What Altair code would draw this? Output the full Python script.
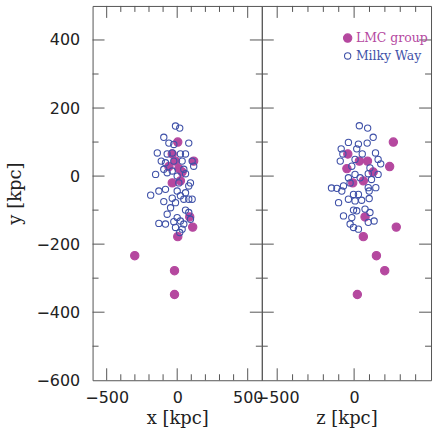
import altair as alt
import pandas as pd

# Satellite positions in kpc
GROUPS = ["LMC group", "Milky Way"]
MAGENTA = "#b5489f"
BLUE = "#3f51a8"
FRAME = "#555555"

LMC_X = [4, -35, -12, 117, -59, 12, 35, -35, 23, 89, 110, 4, -301, -19, -19]
LMC_Y = [100, 65, 44, 44, 28, 22, 12, -20, -14, -120, -150, -178, -234, -278, -348]
LMC_Z = [255, -41, 34, 87, 231, -47, 124, -9, 60, 71, 274, 60, 145, 199, 21]

MW_X = [-12, 18, -95, -59, -24, 82, -141, -71, -35, 23, 59, -113, -83, -24, 35,
        106, 117, -95, -35, 47, -153, -71, 0, 59, 94, 12, 82, -130, -83, -188,
        0, 23, 59, -35, 47, 82, 106, -95, -12, -47, 59, 82, -71, 0, -130,
        -83, -24, 23, 47, -12, 35, 18, 94]
MW_XY = [147, 141, 114, 97, 93, 97, 68, 65, 68, 65, 65, 44, 39, 44, 44,
         44, 29, 20, 15, 20, 5, 10, 0, 7, -20, -20, -29, -44, -39, -56,
         -44, -58, -49, -65, -68, -68, -68, -75, -78, -93, -100, -107, -112, -122, -139,
         -141, -134, -132, -141, -151, -156, -166, -127]

MW_Z = [34, 88, 124, -37, 28, 85, -84, 17, -73, 53, 139, -90, 6, 156, 173,
        -15, 103, 6, 92, 156, -37, 39, 113, -26, 92, -112, -69, -80, -37, 6,
        49, 98, 141, -101, -4, 28, 98, -4, 17, 71, 103, -69, -15, 92, 130,
        -26, -4, 28, -147]
MW_ZY = [148, 141, 114, 99, 94, 97, 80, 80, 65, 65, 68, 44, 49, 49, 36,
         29, 24, 5, 7, 5, -5, -5, -10, -20, -34, -36, -29, -44, -68, -73,
         -71, -66, -34, -78, -54, -54, -44, -100, -102, -97, -107, -117, -122, -136, -132,
         -141, -151, -156, -35]

# Axis tick positions (major carry labels, minor are unlabeled)
X_MAJOR = [-500, 0, 500]
X_MINOR = [-400, -300, -200, -100, 100, 200, 300, 400]
Z_MAJOR = [-500, 0]
Z_MINOR = [-400, -300, -200, -100, 100, 200, 300, 400]
Y_LABELS = [-600, -400, -200, 0, 200, 400]
Y_MAJOR = [-400, -200, 0, 200, 400]
Y_MINOR = [-500, -300, -100, 100, 300]

W, H = 170, 376
MAJOR_LEN, MINOR_LEN = 12, 6

Y_SCALE = alt.Scale(domain=[-600, 500], nice=False, zero=False)


def make_x_axis(values):
    return alt.Axis(values=values, ticks=False, domain=False, grid=False,
                    labelFont="DejaVu Sans", labelFontSize=16, labelColor="#222",
                    labelPadding=9, labelFlush=False, labelOverlap=False,
                    titleFont="DejaVu Serif", titleFontSize=18,
                    titleFontWeight="normal", titleColor="#222", titlePadding=4)


def make_y_axis(show):
    if not show:
        return None
    return alt.Axis(values=Y_LABELS, ticks=False, domain=False, grid=False,
                    labelFont="DejaVu Sans", labelFontSize=16, labelColor="#222",
                    labelPadding=13, labelFlush=False, labelOverlap=False,
                    titleFont="DejaVu Serif", titleFontSize=18,
                    titleFontWeight="normal", titleColor="#222", titlePadding=11)


def tick_rules(vals, along, scale, axis, title, start, end):
    df = pd.DataFrame({"t": vals})
    if along == "x":
        enc = dict(x=alt.X("t:Q", scale=scale, axis=axis, title=title),
                   y=alt.value(start), y2=alt.value(end))
    else:
        enc = dict(y=alt.Y("t:Q", scale=scale, axis=axis, title=title),
                   x=alt.value(start), x2=alt.value(end))
    return alt.Chart(df).mark_rule(color=FRAME, strokeWidth=1).encode(**enc)


def frame_ticks(h_scale, h_axis, h_title, y_axis, h_major, h_minor):
    layers = []
    for vals, length in ((h_major, MAJOR_LEN), (h_minor, MINOR_LEN)):
        layers.append(tick_rules(vals, "x", h_scale, h_axis, h_title, H, H - length))
        layers.append(tick_rules(vals, "x", h_scale, h_axis, h_title, 0, length))
    for vals, length in ((Y_MAJOR, MAJOR_LEN), (Y_MINOR, MINOR_LEN)):
        layers.append(tick_rules(vals, "y", Y_SCALE, y_axis, "y [kpc]", 0, length))
        layers.append(tick_rules(vals, "y", Y_SCALE, y_axis, "y [kpc]", W, W - length))
    return layers


def panel(h_vals, y_vals, lmc_h, title, h_domain, h_major, h_minor, first):
    df = pd.DataFrame({
        "h": list(lmc_h) + list(h_vals),
        "y": list(LMC_Y) + list(y_vals),
        "group": [GROUPS[0]] * len(lmc_h) + [GROUPS[1]] * len(h_vals),
    })
    h_scale = alt.Scale(domain=h_domain, nice=False, zero=False)
    x_axis = make_x_axis(h_major)
    y_axis = make_y_axis(first)
    if first:
        legend = None
    else:
        legend = alt.Legend(
            title=None, orient="none", legendX=80, legendY=26, padding=0,
            labelFont="DejaVu Serif", labelFontSize=12.5, labelOffset=2,
            labelColor=alt.ExprRef(
                expr=f"datum.label == '{GROUPS[0]}' ? '{MAGENTA}' : '{BLUE}'"),
            rowPadding=5, symbolStrokeWidth=1.1,
        )
    points = alt.Chart(df).mark_point(shape="circle", strokeWidth=1.1, opacity=1).encode(
        x=alt.X("h:Q", scale=h_scale, axis=x_axis, title=title),
        y=alt.Y("y:Q", scale=Y_SCALE, axis=y_axis, title="y [kpc]"),
        color=alt.Color("group:N", scale=alt.Scale(domain=GROUPS, range=[MAGENTA, BLUE]),
                        legend=legend),
        fill=alt.Fill("group:N", scale=alt.Scale(domain=GROUPS, range=[MAGENTA, "transparent"]),
                      legend=legend),
        size=alt.Size("group:N", scale=alt.Scale(domain=GROUPS, range=[70, 40]),
                      legend=legend),
    )
    ticks = frame_ticks(h_scale, x_axis, title, y_axis, h_major, h_minor)
    return alt.layer(points, *ticks).properties(width=W, height=H)


left = panel(MW_X, MW_XY, LMC_X, "x [kpc]", [-600, 600], X_MAJOR, X_MINOR, True)
right = panel(MW_Z, MW_ZY, LMC_Z, "z [kpc]", [-600, 500], Z_MAJOR, Z_MINOR, False)

chart = (
    alt.hconcat(left, right, spacing=0, bounds="flush")
    .resolve_scale(color="independent", fill="independent", size="independent")
    .resolve_legend(color="independent", fill="independent", size="independent")
    .properties(padding={"left": 6, "top": 4, "right": 6, "bottom": 0},
                background="white")
    .configure_view(stroke=FRAME, strokeWidth=1)
)

chart.save("out.html", embed_options={"renderer": "svg", "actions": False})
